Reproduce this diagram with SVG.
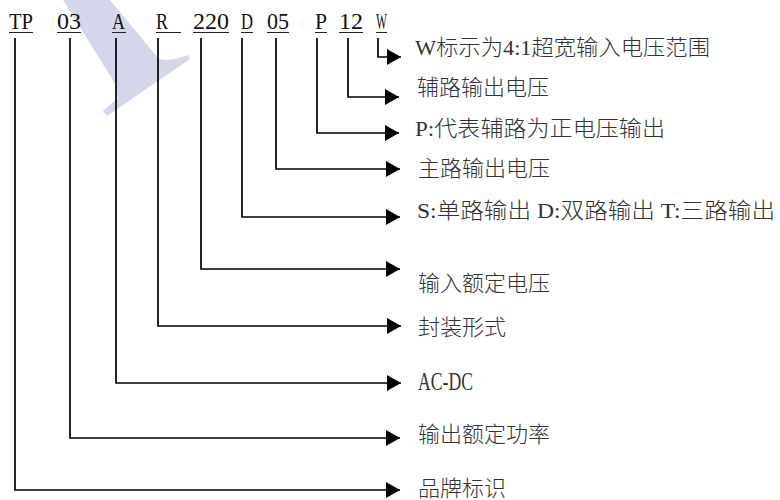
<svg xmlns="http://www.w3.org/2000/svg" width="780" height="500" viewBox="0 0 780 500">
<style>
.code{font-family:"Liberation Serif","Noto Sans CJK SC",serif;font-size:24px;fill:#111}
.ul{stroke:#222;stroke-width:1}
.lbl{font-family:"Liberation Serif","Noto Sans CJK SC",sans-serif;font-size:22px;font-weight:300;fill:#333}
.lat{font-size:25px}
.conn path{fill:none;stroke:#000;stroke-width:1.7}
</style>
<defs>
<marker id="arr" markerUnits="userSpaceOnUse" markerWidth="15" markerHeight="18" refX="14" refY="8" orient="auto">
<path d="M0,0 L14,8 L0,16 Z" fill="#000"/>
</marker>
</defs>
<rect width="780" height="500" fill="#fff"/>
<path id="watermark" d="M63,0 L110,0 L158,58 Q166,63 188,55 L190,59 L107,116 L103,111 L118,98 Q115,92 116,85 Z" fill="#d4d6ec"/>
<g id="code-TP"><text class="code" x="9" y="29" textLength="24" lengthAdjust="spacingAndGlyphs">TP</text><line class="ul" x1="9" y1="32.5" x2="33" y2="32.5"/></g>
<g id="code-03"><text class="code" x="57" y="29" textLength="24" lengthAdjust="spacingAndGlyphs">03</text><line class="ul" x1="57" y1="32.5" x2="81" y2="32.5"/></g>
<g id="code-A"><text class="code" x="112" y="29" textLength="13" lengthAdjust="spacingAndGlyphs">A</text><line class="ul" x1="112" y1="32.5" x2="126" y2="32.5"/></g>
<g id="code-R"><text class="code" x="156" y="29" textLength="12" lengthAdjust="spacingAndGlyphs">R</text><line class="ul" x1="156" y1="32.5" x2="181" y2="32.5"/></g>
<g id="code-220"><text class="code" x="193" y="29" textLength="36" lengthAdjust="spacingAndGlyphs">220</text><line class="ul" x1="193" y1="32.5" x2="229" y2="32.5"/></g>
<g id="code-D"><text class="code" x="241" y="29" textLength="12" lengthAdjust="spacingAndGlyphs">D</text><line class="ul" x1="241" y1="32.5" x2="253" y2="32.5"/></g>
<g id="code-05"><text class="code" x="267" y="29" textLength="22" lengthAdjust="spacingAndGlyphs">05</text><line class="ul" x1="267" y1="32.5" x2="289" y2="32.5"/></g>
<g id="code-P"><text class="code" x="315" y="29" textLength="12" lengthAdjust="spacingAndGlyphs">P</text><line class="ul" x1="315" y1="32.5" x2="327" y2="32.5"/></g>
<g id="code-12"><text class="code" x="339" y="29" textLength="24" lengthAdjust="spacingAndGlyphs">12</text><line class="ul" x1="339" y1="32.5" x2="363" y2="32.5"/></g>
<g id="code-W"><text class="code" x="376" y="29" textLength="11" lengthAdjust="spacingAndGlyphs">W</text><line class="ul" x1="376" y1="32.5" x2="387" y2="32.5"/></g>
<g class="conn" id="connectors">
<path d="M15,38 V490 H400" marker-end="url(#arr)"/>
<path d="M70,38 V438 H400" marker-end="url(#arr)"/>
<path d="M116,38 V383 H401" marker-end="url(#arr)"/>
<path d="M158,38 V326 H401" marker-end="url(#arr)"/>
<path d="M201,38 V269 H400" marker-end="url(#arr)"/>
<path d="M242,38 V217 H400" marker-end="url(#arr)"/>
<path d="M276,38 V169 H400" marker-end="url(#arr)"/>
<path d="M317,38 V133 H399" marker-end="url(#arr)"/>
<path d="M348,38 V97 H399" marker-end="url(#arr)"/>
<path d="M378,38 V57 H401" marker-end="url(#arr)"/>
</g>
<g id="label-W"><text class="lbl" x="415" y="55" textLength="295" lengthAdjust="spacingAndGlyphs">W标示为4:1超宽输入电压范围</text></g>
<g id="label-12"><text class="lbl" x="417" y="95">辅路输出电压</text></g>
<g id="label-P"><text class="lbl" x="415" y="136" textLength="250" lengthAdjust="spacingAndGlyphs">P:代表辅路为正电压输出</text></g>
<g id="label-05"><text class="lbl" x="418" y="176">主路输出电压</text></g>
<g id="label-D"><text class="lbl" x="417" y="218" textLength="358" lengthAdjust="spacingAndGlyphs">S:单路输出 D:双路输出 T:三路输出</text></g>
<g id="label-220"><text class="lbl" x="418" y="291">输入额定电压</text></g>
<g id="label-R"><text class="lbl" x="418" y="335">封装形式</text></g>
<g id="label-A"><text class="lbl lat" x="418" y="390" textLength="55" lengthAdjust="spacingAndGlyphs">AC-DC</text></g>
<g id="label-03"><text class="lbl" x="418" y="442">输出额定功率</text></g>
<g id="label-TP"><text class="lbl" x="418" y="496">品牌标识</text></g>
</svg>
